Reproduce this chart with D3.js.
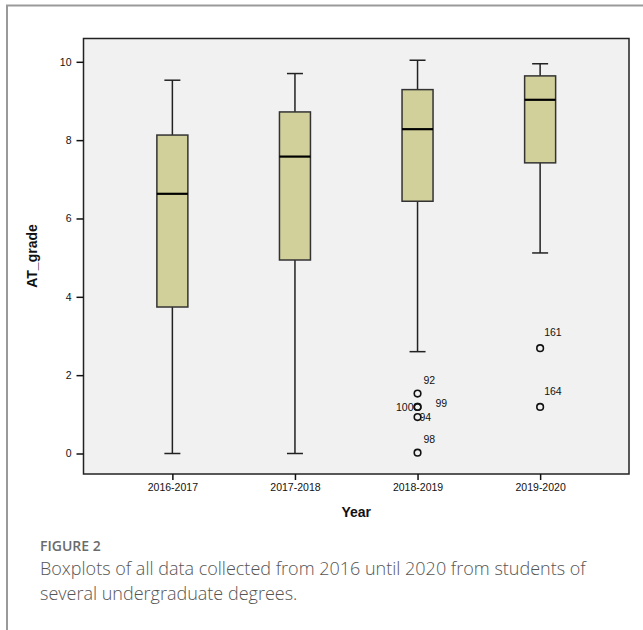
<!DOCTYPE html>
<html>
<head>
<meta charset="utf-8">
<script src="https://cdn.jsdelivr.net/npm/d3@7"></script>
<style>
  body { margin: 0; background: #fff; }
  svg { display: block; }
</style>
</head>
<body>
<div id="chart"></div>
<script>
(function() {
    // Data
    var years = ["2016-2017", "2017-2018", "2018-2019", "2019-2020"];
    var whiskerLow  = [0, 0, 2.6, 5.12];
    var q1          = [3.74, 4.94, 6.44, 7.42];
    var medians     = [6.63, 7.58, 8.28, 9.03];
    var q3          = [8.13, 8.72, 9.29, 9.64];
    var whiskerHigh = [9.53, 9.7, 10.04, 9.95];
    var outlierYear  = ["2018-2019", "2018-2019", "2018-2019", "2018-2019", "2018-2019", "2019-2020", "2019-2020"];
    var outlierValue = [1.53, 1.19, 1.19, 0.93, 0.02, 2.69, 1.19];
    var outlierLabel = ["92", "100", "99", "94", "98", "161", "164"];
    var yTicks = [0, 2, 4, 6, 8, 10];

    var W = 643, H = 630;
    var plot = {left: 83.5, right: 629, top: 38.5, bottom: 474};

    var svg = d3.select("#chart").append("svg")
        .attr("width", W)
        .attr("height", H);

    // Outer figure frame (left and top lines only)
    svg.append("path")
        .attr("d", "M7," + H + "V5.5H" + W)
        .attr("fill", "none")
        .attr("stroke", "#9a9a9a")
        .attr("stroke-width", 2);

    // Scales
    var x = d3.scalePoint().domain(years).range([plot.left, plot.right]).padding(0.725);
    var y = d3.scaleLinear().domain([0, 10]).range([453.5, 61.8]);

    // Plot background
    svg.append("rect")
        .attr("x", plot.left)
        .attr("y", plot.top)
        .attr("width", plot.right - plot.left)
        .attr("height", plot.bottom - plot.top)
        .attr("fill", "#f1f1f1")
        .attr("stroke", "#222")
        .attr("stroke-width", 1.5);

    // Y axis
    var yAxis = svg.append("g")
        .attr("transform", "translate(" + plot.left + ",0)")
        .call(d3.axisLeft(y).tickValues(yTicks).tickSize(7).tickPadding(5).tickFormat(d3.format("d")));
    yAxis.select(".domain").remove();
    yAxis.selectAll(".tick line").attr("stroke", "#111").attr("stroke-width", 1.5);
    yAxis.selectAll("text")
        .attr("font-family", "Liberation Sans, Arial, sans-serif")
        .attr("font-size", "10.5px")
        .attr("fill", "#111");

    // X axis
    var xAxis = svg.append("g")
        .attr("transform", "translate(0," + plot.bottom + ")")
        .call(d3.axisBottom(x).tickSize(6).tickPadding(4));
    xAxis.select(".domain").remove();
    xAxis.selectAll(".tick line").attr("stroke", "#111").attr("stroke-width", 1.5);
    xAxis.selectAll("text")
        .attr("font-family", "Liberation Sans, Arial, sans-serif")
        .attr("font-size", "10.5px")
        .attr("fill", "#111");

    var boxW = 31, capW = 16;
    var boxes = svg.append("g");

    years.forEach(function(yr, i) {
        var cx = x(yr);
        var g = boxes.append("g");

        // Whiskers
        g.append("line")
            .attr("x1", cx).attr("x2", cx)
            .attr("y1", y(whiskerHigh[i])).attr("y2", y(q3[i]))
            .attr("stroke", "#222").attr("stroke-width", 1.5);
        g.append("line")
            .attr("x1", cx).attr("x2", cx)
            .attr("y1", y(q1[i])).attr("y2", y(whiskerLow[i]))
            .attr("stroke", "#222").attr("stroke-width", 1.5);
        [whiskerHigh[i], whiskerLow[i]].forEach(function(v) {
            g.append("line")
                .attr("x1", cx - capW / 2).attr("x2", cx + capW / 2)
                .attr("y1", y(v)).attr("y2", y(v))
                .attr("stroke", "#222").attr("stroke-width", 1.5);
        });

        // Box
        g.append("rect")
            .attr("x", cx - boxW / 2)
            .attr("y", y(q3[i]))
            .attr("width", boxW)
            .attr("height", y(q1[i]) - y(q3[i]))
            .attr("fill", "#d2d09a")
            .attr("stroke", "#333")
            .attr("stroke-width", 1.5);

        // Median
        g.append("line")
            .attr("x1", cx - boxW / 2).attr("x2", cx + boxW / 2)
            .attr("y1", y(medians[i])).attr("y2", y(medians[i]))
            .attr("stroke", "#000").attr("stroke-width", 2.2);
    });

    // Outliers
    var labelOffset = {"92": [6, -10, "start"], "100": [-4, 4, "end"], "99": [18, 0, "start"],
                       "94": [2, 4, "start"], "98": [6, -10, "start"], "161": [4, -12, "start"],
                       "164": [4, -12, "start"]};
    outlierValue.forEach(function(v, i) {
        var cx = x(outlierYear[i]), cy = y(v);
        svg.append("circle")
            .attr("cx", cx).attr("cy", cy).attr("r", 3.3)
            .attr("fill", "none")
            .attr("stroke", "#111")
            .attr("stroke-width", 1.6);
        var o = labelOffset[outlierLabel[i]];
        svg.append("text")
            .attr("x", cx + o[0])
            .attr("y", cy + o[1])
            .attr("text-anchor", o[2])
            .attr("font-family", "Liberation Sans, Arial, sans-serif")
            .attr("font-size", "10.5px")
            .attr("fill", "#111")
            .text(outlierLabel[i]);
    });

    // Axis titles
    svg.append("text")
        .attr("x", (plot.left + plot.right) / 2)
        .attr("y", 517)
        .attr("text-anchor", "middle")
        .attr("font-family", "Liberation Sans, Arial, sans-serif")
        .attr("font-size", "14px")
        .attr("font-weight", "bold")
        .attr("fill", "#111")
        .text("Year");

    svg.append("text")
        .attr("transform", "translate(37,256) rotate(-90)")
        .attr("text-anchor", "middle")
        .attr("font-family", "Liberation Sans, Arial, sans-serif")
        .attr("font-size", "14px")
        .attr("font-weight", "bold")
        .attr("fill", "#111")
        .text("AT_grade");

    // Caption
    svg.append("text")
        .attr("x", 40)
        .attr("y", 551)
        .attr("font-family", "Open Sans, sans-serif")
        .attr("font-size", "14px")
        .attr("font-weight", 600)
        .attr("fill", "#6b6b6b")
        .text("FIGURE 2");

    var captionLines = ["Boxplots of all data collected from 2016 until 2020 from students of",
                        "several undergraduate degrees."];
    captionLines.forEach(function(line, i) {
        svg.append("text")
            .attr("x", 40)
            .attr("y", 575 + i * 25)
            .attr("font-family", "Open Sans, sans-serif")
            .attr("font-size", "18px")
            .attr("font-weight", 300)
            .attr("fill", "#555")
            .text(line);
    });
})();
</script>
</body>
</html>
